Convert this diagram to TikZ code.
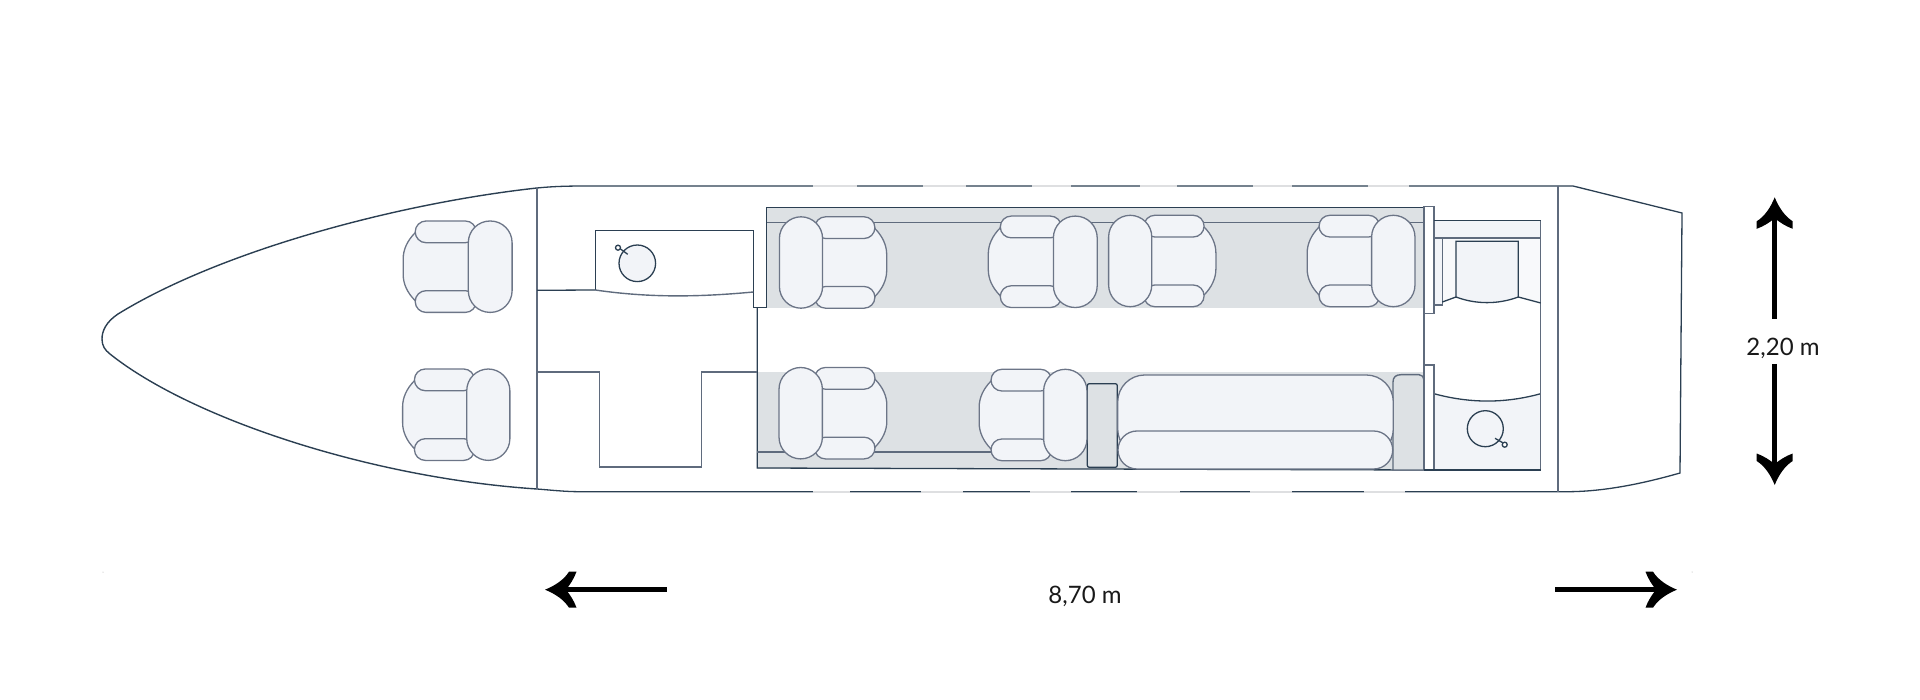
\documentclass[tikz,border=0pt]{standalone}
\usepackage{fontspec}
\setmainfont{Lato}
\definecolor{wall}{HTML}{2B3F52}
\definecolor{skin}{HTML}{5F6B7D}
\definecolor{seatline}{HTML}{6C7587}
\definecolor{seatfill}{HTML}{F2F4F8}
\definecolor{zone}{HTML}{DDE1E4}
\definecolor{pale}{HTML}{F8F9FB}
\definecolor{glass}{HTML}{DEDFE1}
\tikzset{
  wallline/.style={draw=wall,line width=1.3pt,line join=miter},
  skinline/.style={draw=skin,line width=1.4pt},
  seatpart/.style={draw=seatline,fill=seatfill,line width=1.3pt},
  zonefill/.style={fill=zone},
  glassline/.style={draw=glass,line width=1.6pt},
  dim/.style={font=\fontsize{24}{29}\selectfont,text=black!90,inner sep=0pt},
  thickarrow/.style={draw=black,line width=5pt},
}
\newcommand{\seatat}[3]{%
  \begin{scope}[shift={(#1,#2)},xscale=#3]
    \draw[seatpart] (-75,-34) .. controls (-83,-26) and (-87,-17) .. (-87,-8) -- (-87,8) .. controls (-87,17) and (-83,26) .. (-75,34) -- (-20,34) -- (-20,-34) -- cycle;
    \draw[seatpart,rounded corners=10.8pt] (-75,-45.7) rectangle (-14,-24);
    \draw[seatpart,rounded corners=10.8pt] (-75,24) rectangle (-14,45.7);
    \draw[seatpart,rounded corners=21.7pt] (-21.9,-45.7) rectangle (21.9,45.7);
  \end{scope}}
\newcommand{\headarrow}[3]{%
  \begin{scope}[shift={(#1,#2)},rotate=#3]
    \fill[black] (0,0) .. controls (10,-4) and (19,-10) .. (24,-18) -- (31.5,-18) .. controls (29,-11) and (25,-5) .. (21,0) .. controls (25,5) and (29,11) .. (31.5,18) -- (24,18) .. controls (19,10) and (10,4) .. (0,0) -- cycle;
  \end{scope}}
\begin{document}
\begin{tikzpicture}[x=1pt,y=-1pt]
\useasboundingbox (0,0) rectangle (1920,700);
% grey zones
\fill[zonefill] (766.7,207.3) rectangle (1424,307.7);
\fill[zonefill] (757.3,372) rectangle (1424,468.5);
% galley fills
\fill[pale] (1434,238) -- (1540.7,238) -- (1540.7,303) -- (1518.3,297) .. controls (1498,304.5) and (1476,304.5) .. (1456,297) -- (1442.3,302) -- (1434,302) -- cycle;
\fill[seatfill] (1434,220.7) rectangle (1540.7,238);
\draw[skinline,fill=seatfill] (1434,238) rectangle (1442.3,305);
\draw[wallline,fill=seatfill] (1456,297) -- (1456,241.3) -- (1518.3,241.3) -- (1518.3,297) .. controls (1498,304.5) and (1476,304.5) .. (1456,297) -- cycle;
\fill[seatfill] (1434,393.7) .. controls (1470,403.5) and (1505,403.5) .. (1540.7,393.7) -- (1540.7,470) -- (1434,470) -- cycle;
\draw[wallline] (1434,393.7) .. controls (1470,403.5) and (1505,403.5) .. (1540.7,393.7);
% fuselage
\draw[wallline,line width=1.4pt] (537,188) .. controls (400,203) and (222,250) .. (118,314) .. controls (106,322) and (102,331) .. (102,339) .. controls (102,346) and (105,350) .. (110,354) .. controls (190,418) and (370,478) .. (537,489);
\draw[wallline] (537,188) .. controls (555,186.2) and (570,186) .. (590,186) -- (1573,186) -- (1682,213) -- (1680,473) .. controls (1645,483) and (1605,491.7) .. (1567,491.7) -- (580,491.7) .. controls (565,491.7) and (550,490) .. (537,489);
\foreach \a/\b in {813/857,923/966,1032/1071,1140/1177,1253/1292,1368/1409}
  \draw[glassline] (\a,186) -- (\b,186);
\foreach \a/\b in {813/850,921/963,1030/1071,1137/1180,1250/1292,1364/1405}
  \draw[glassline] (\a,491.7) -- (\b,491.7);
\draw[skinline] (537,188) -- (537,489);
\draw[skinline] (1558,186) -- (1558,491.7);
% forward cabin walls
\draw[wallline] (537,290.3) -- (595.3,290);
\draw[wallline] (595.3,290) -- (595.3,230.3) -- (753.3,230.3) -- (753.3,307.3) -- (766.7,307.3) -- (766.7,207.3) -- (1424,207.3);
\draw[skinline] (595.3,290) .. controls (650,298) and (700,297) .. (753.3,292);
\draw[wallline,fill=seatfill] (637.3,263.3) circle (18.3);
\draw[wallline] (627.7,254.3) -- (620.5,249);
\draw[wallline,fill=white] (618,247.7) circle (2.5);
\draw[wallline] (757.3,307.3) -- (757.3,468) -- (1424,470);
\draw[skinline] (537,372) -- (599.3,372) -- (599.3,467) -- (701.3,467) -- (701.3,372) -- (757.3,372);
% rails
\draw[skinline] (766.7,222.3) -- (1424,222.3);
\draw[skinline] (757.3,452) -- (1050,452);
% side tables
\draw[wallline,fill=zone,rounded corners=2pt] (1087.3,383.7) rectangle (1117.3,467.3);
\draw[skinline,fill=zone] (1393,470) -- (1393,382) .. controls (1393,377) and (1396,374.7) .. (1401,374.7) -- (1419,374.7) .. controls (1422,374.7) and (1424,377) .. (1424,380) -- (1424,470) -- cycle;
% sofa
\draw[seatpart,rounded corners=27pt] (1117.7,375) rectangle (1393.3,456);
\draw[seatpart,rounded corners=19pt] (1118,431) rectangle (1392.7,469);
% seats
\seatat{490.2}{266.7}{1}
\seatat{488.3}{414.7}{0.985}
\seatat{801}{262.5}{-0.985}
\seatat{800.7}{413.2}{-0.99}
\seatat{1075.3}{261.8}{1}
\seatat{1130.2}{261}{-0.985}
\seatat{1393.3}{261}{0.99}
\seatat{1065.3}{415}{0.99}
% bulkhead boxes and galley
\draw[skinline,fill=white] (1424,206.7) rectangle (1434,313.3);
\draw[skinline] (1424,313.3) -- (1424,365);
\draw[skinline,fill=white] (1424,470) -- (1424,365) -- (1434,365) -- (1434,470);
\draw[wallline] (1434,220.7) -- (1540.7,220.7);
\draw[skinline] (1540.7,220.7) -- (1540.7,470);
\draw[wallline] (1540.7,470) -- (1424,470);
\draw[skinline] (1434,238) -- (1540.7,238);
\draw[wallline] (1442.3,302) -- (1456,297);
\draw[wallline] (1518.3,297) -- (1540.7,303);
\draw[wallline] (1485.3,428.7) circle (18);
\draw[wallline] (1495,438.3) -- (1502.7,442.7);
\draw[wallline,fill=white] (1504.7,444.7) circle (2.5);
% dimensions
\coordinate (hl) at (666.7,589.7);
\coordinate (hltip) at (555,589.7);
\coordinate (hr) at (1555,589.7);
\coordinate (hrtip) at (1667,589.7);
\coordinate (vt) at (1774.7,319);
\coordinate (vttip) at (1774.7,207);
\coordinate (vb) at (1774.7,364);
\coordinate (vbtip) at (1774.7,475);
\draw[thickarrow] (hl) -- (hltip);
\draw[thickarrow] (hr) -- (hrtip);
\draw[thickarrow] (vt) -- (vttip);
\draw[thickarrow] (vb) -- (vbtip);
\headarrow{545}{589.7}{0}
\headarrow{1677}{589.7}{180}
\headarrow{1774.7}{197.3}{-90}
\headarrow{1774.7}{485}{90}
\node[dim] (widthlabel) at (1085,596.5) {8,70 m};
\node[dim] (heightlabel) at (1783,348) {2,20 m};
\fill[black!35] (103,572) circle (0.5);
\fill[black!35] (1692,572) circle (0.5);
\end{tikzpicture}
\end{document}
